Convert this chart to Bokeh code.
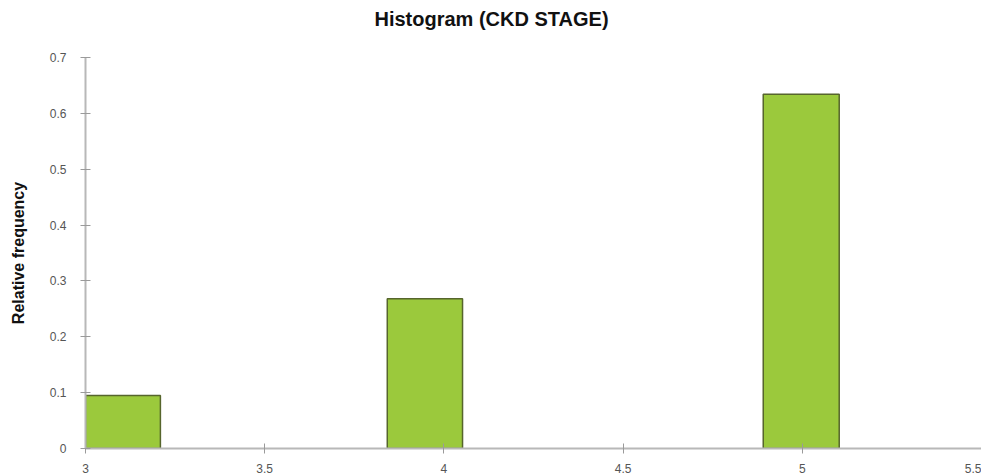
from bokeh.plotting import figure
from bokeh.models import Range1d, FixedTicker, Title, ColumnDataSource
from bokeh.embed import file_html
from bokeh.resources import INLINE

# Data
bin_left = [3.0, 3.842, 4.891]
bin_right = [3.209, 4.052, 5.103]
rel_freq = [0.095, 0.268, 0.634]
x_ticks = [3.0, 3.5, 4.0, 4.5, 5.0, 5.5]
x_tick_labels = ["3", "3.5", "4", "4.5", "5", "5.5"]
y_ticks = [0.0, 0.1, 0.2, 0.3, 0.4, 0.5, 0.6, 0.7]
y_tick_labels = ["0", "0.1", "0.2", "0.3", "0.4", "0.5", "0.6", "0.7"]
title_text = "Histogram  (CKD STAGE)"
y_label = "Relative frequency"

src = ColumnDataSource(dict(left=bin_left, right=bin_right, top=rel_freq,
                            bottom=[0] * len(rel_freq)))

p = figure(width=981, height=475, output_backend="svg", toolbar_location=None,
           x_range=Range1d(3.0, 5.5), y_range=Range1d(0, 0.7),
           min_border_left=85, min_border_right=0, min_border_top=57,
           min_border_bottom=27)
p.title = None
# spacer panel between frame and title
p.add_layout(Title(text=" ", standoff=22, text_font_size="1px"), "above")
p.add_layout(Title(text=title_text, align="left", offset=289, standoff=6,
                   text_font="Liberation Sans", text_font_size="20px",
                   text_font_style="bold", text_color="#111111"), "above")

p.quad(left="left", right="right", top="top", bottom="bottom", source=src,
       fill_color="#9BC93C", line_color="#56652C", line_width=1.5)

p.outline_line_color = None
p.xgrid.visible = False
p.ygrid.ticker = FixedTicker(ticks=[0.7])
p.ygrid.grid_line_color = "#C8C8C8"
p.ygrid.grid_line_width = 2

for ax in (p.xaxis[0], p.yaxis[0]):
    ax.axis_line_color = "#B8B8B8"
    ax.axis_line_width = 2
    ax.major_tick_line_color = "#9A9A9A"
    ax.major_tick_in = 5
    ax.major_tick_out = 5
    ax.minor_tick_line_color = None
    ax.major_label_text_font = "Liberation Sans"
    ax.major_label_text_font_size = "12px"
    ax.major_label_text_color = "#555555"

p.xaxis.ticker = FixedTicker(ticks=x_ticks)
p.xaxis.major_label_overrides = {t: s for t, s in zip(x_ticks, x_tick_labels)}
p.xaxis.major_label_standoff = 10

p.yaxis.ticker = FixedTicker(ticks=y_ticks)
p.yaxis.major_label_overrides = {t: s for t, s in zip(y_ticks, y_tick_labels)}
p.yaxis.major_label_standoff = 14
p.yaxis.axis_label = y_label
p.yaxis.axis_label_text_font = "Liberation Sans"
p.yaxis.axis_label_text_font_size = "16px"
p.yaxis.axis_label_text_font_style = "bold"
p.yaxis.axis_label_text_color = "#111111"
p.yaxis.axis_label_standoff = 20

p.background_fill_color = "white"
p.border_fill_color = "white"

open("out.html", "w").write(file_html(p, INLINE))
